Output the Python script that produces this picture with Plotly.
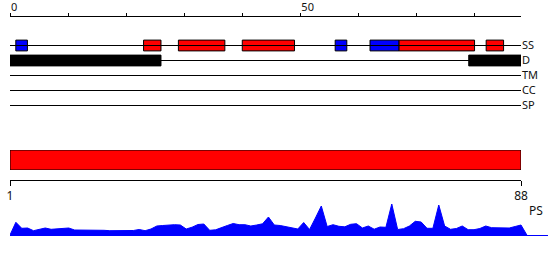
import plotly.graph_objects as go

W, H = 550, 260

# ---------------- data ----------------
protein_length = 88
track_rows = ["SS", "D", "TM", "CC", "SP"]

# secondary structure elements: (start, end, type)
ss_start = [1, 23, 29, 40, 56, 62, 67, 82]
ss_end = [3, 26, 37, 49, 58, 67, 80, 85]
ss_type = ["strand", "helix", "helix", "helix", "strand", "strand", "helix", "helix"]

# disordered regions
dis_start = [0, 79]
dis_end = [26, 88]

# domain bar
domain_start = [1]
domain_end = [88]

# top ruler
ruler_major = [0, 50]
ruler_minor_step = 10

# bottom axis ticks
bottom_ticks = [1, 88]

# PS profile (per residue)
ps_pos = list(range(1, 90))
ps_val = [0, 12.7, 6.7, 7, 4.3, 5.5, 7, 5.7, 6, 6.3,
          7, 5, 5, 4.7, 5, 5.3, 4.7, 4.3, 4.3, 4,
          4.2, 4.5, 5.5, 4.3, 6, 9, 9.5, 10, 10.3, 10,
          6, 7.8, 10.5, 11, 4.7, 5.2, 7, 9.5, 11.5, 10.3,
          10.3, 9, 10, 11.2, 18, 10, 9.5, 8.5, 7.3, 6,
          12.5, 5.5, 17, 29, 8.5, 10.3, 8.7, 8.2, 10.7, 11.3,
          7, 9, 5.8, 8, 7.7, 31, 5.5, 6.3, 9, 13.7,
          13, 6.7, 6.7, 30, 9, 5.7, 6.5, 9, 5.3, 5.3,
          6.5, 9, 7.3, 7.2, 7.1, 7, 8.5, 10, 0]

ss_colors = {"helix": "#ff0000", "strand": "#0000ff"}

# ---------------- layout helpers ----------------
def py(px):
    return (H - px) / H

def pxx(px):
    return px / W

FONT = "Noto Sans"
TXT = "#111"
left_px, right_px = 10, 521
row_step = 15
row_top = 45.5

fig = go.Figure()

# row baselines
for r in track_rows:
    fig.add_trace(go.Scatter(x=[0, protein_length], y=[r, r], mode="lines",
                             line=dict(color="black", width=1),
                             xaxis="x", yaxis="y", hoverinfo="skip",
                             showlegend=False))

# disordered boxes
fig.add_trace(go.Bar(orientation="h", y=["D"] * len(dis_start), base=dis_start,
                     x=[e - s for s, e in zip(dis_start, dis_end)],
                     marker=dict(color="black", line=dict(color="black", width=1)),
                     width=0.72, xaxis="x", yaxis="y", cliponaxis=False,
                     showlegend=False))

# SS boxes
fig.add_trace(go.Bar(orientation="h", y=["SS"] * len(ss_start), base=ss_start,
                     x=[e - s for s, e in zip(ss_start, ss_end)],
                     marker=dict(color=[ss_colors[t] for t in ss_type],
                                 line=dict(color="black", width=1)),
                     width=0.72, xaxis="x", yaxis="y", cliponaxis=False,
                     showlegend=False))

# domain bar
fig.add_trace(go.Bar(orientation="h", y=[0.5], base=domain_start,
                     x=[e - s for s, e in zip(domain_start, domain_end)],
                     marker=dict(color="#ff0000", line=dict(color="black", width=1)),
                     width=1, xaxis="x2", yaxis="y2", cliponaxis=False,
                     showlegend=False))

# PS profile
fig.add_trace(go.Scatter(x=ps_pos, y=ps_val, mode="lines", fill="tozeroy",
                         fillcolor="#0000ff", line=dict(color="#0000ff", width=1),
                         xaxis="x3", yaxis="y3", showlegend=False))

scale2 = (right_px - left_px) / (bottom_ticks[1] - bottom_ticks[0])
x3_end_px = 548

common = dict(automargin=False, showgrid=False, zeroline=False, fixedrange=True)

fig.update_layout(
    template="none",
    width=W, height=H,
    margin=dict(l=0, r=0, t=0, b=0, pad=0),
    paper_bgcolor="white", plot_bgcolor="white",
    barmode="overlay",
    showlegend=False,
    font=dict(family=FONT, color=TXT, size=11),
    xaxis=dict(domain=[pxx(left_px), pxx(right_px)], range=[0, protein_length],
               side="top", anchor="free", position=py(15.5),
               showline=True, linecolor="black", linewidth=1,
               ticks="outside", ticklen=3, tickcolor="black", tickwidth=1,
               tickvals=ruler_major, ticklabelposition="outside right",
               tickfont=dict(size=11, family=FONT, color=TXT),
               minor=dict(dtick=ruler_minor_step, tick0=0, ticks="outside",
                          ticklen=3, tickcolor="black", tickwidth=1,
                          showgrid=False),
               **common),
    yaxis=dict(domain=[py(row_top + row_step * 4.5), py(row_top - row_step * 0.5)],
               type="category", categoryarray=track_rows,
               range=[len(track_rows) - 0.5, -0.5],
               side="right", anchor="free", position=pxx(right_px),
               showline=False, ticks="",
               tickfont=dict(size=11, family=FONT, color=TXT),
               **common),
    xaxis2=dict(domain=[pxx(left_px), pxx(right_px)], range=bottom_ticks,
                anchor="free", position=py(180), side="bottom",
                showline=True, linecolor="black", linewidth=1,
                ticks="outside", ticklen=5, tickcolor="black", tickwidth=1,
                tickvals=bottom_ticks,
                tickfont=dict(size=12, family=FONT, color=TXT),
                **common),
    yaxis2=dict(domain=[py(170), py(150)], range=[0, 1], visible=False,
                anchor="x2", **common),
    xaxis3=dict(domain=[pxx(left_px), pxx(x3_end_px)],
                range=[bottom_ticks[0],
                       bottom_ticks[0] + (x3_end_px - left_px) / scale2],
                anchor="y3", showline=True, linecolor="#0000ff", linewidth=1,
                ticks="", showticklabels=False, **common),
    yaxis3=dict(domain=[py(235), py(195)], range=[0, 40], visible=False,
                anchor="x3", **common),
    annotations=[dict(text="PS", x=pxx(527), y=py(210.5), xref="paper",
                      yref="paper", xanchor="left", yanchor="middle",
                      showarrow=False,
                      font=dict(size=12, family=FONT, color=TXT))],
)

fig.write_html("out.html")
